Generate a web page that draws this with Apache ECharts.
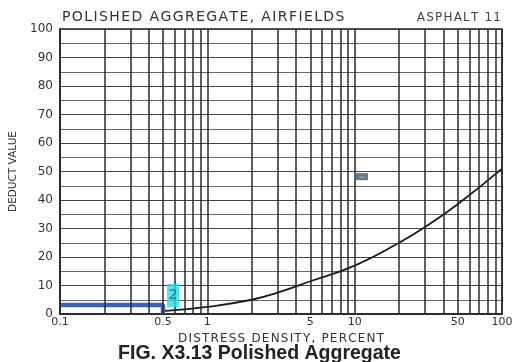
<!DOCTYPE html>
<html>
<head>
<meta charset="utf-8">
<script src="https://cdn.jsdelivr.net/npm/echarts@6/dist/echarts.min.js"></script>
<style>html,body{margin:0;padding:0;background:#fff}#c{width:519px;height:362px}</style>
</head>
<body>
<div id="c"></div>
<script>
// Curve: distress density (%) vs deduct value
var density = [0.5, 1, 2, 3, 5, 10, 20, 30, 50, 100];
var deduct  = [1, 2.5, 5, 7.5, 11.5, 17, 25, 30.5, 38.5, 51];
// Vertical grid line positions (log cycles)
var gridX = [0.1,0.2,0.3,0.4,0.5,0.6,0.7,0.8,0.9,1,2,3,4,5,6,7,8,9,10,20,30,40,50,60,70,80,90,100];
var extraXLabels = [0.5, 5, 50];
// Annotations
var bluePath = [[0.1, 3.2], [0.5, 3.2], [0.5, 0]];
var cyanLabel = [[0.585, 6.5]];
var cyanText = '2';
var darkMarker = [[11.2, 48.2]];

function spaced(s) { return s.split('').join('\u200A'); }

var chart = echarts.init(document.getElementById('c'), null, {renderer: 'canvas'});
var font = 'DejaVu Sans';
var option = {
  animation: false,
  title: [
    {text: spaced('POLISHED AGGREGATE, AIRFIELDS'), left: 57, top: 5,
     textStyle: {fontFamily: font, fontSize: 14, fontWeight: 'normal', color: '#333'}},
    {text: spaced('ASPHALT 11'), right: 13, top: 7,
     textStyle: {fontFamily: font, fontSize: 12, fontWeight: 'normal', color: '#444'}},
    {text: 'FIG. X3.13 Polished Aggregate', left: 'center', top: 339,
     textStyle: {fontFamily: 'Liberation Sans', fontSize: 19.5, fontWeight: 'bold', color: '#222'}}
  ],
  grid: {left: 60, right: 17, top: 29, bottom: 48, show: true, borderColor: '#222', borderWidth: 1.5},
  xAxis: {
    type: 'log', logBase: 10, min: 0.1, max: 100,
    name: spaced('DISTRESS DENSITY, PERCENT'), nameLocation: 'middle', nameGap: 15,
    nameTextStyle: {fontFamily: font, fontSize: 12, color: '#333'},
    axisLine: {show: true, lineStyle: {color: '#222', width: 1.5}},
    axisTick: {show: false},
    splitLine: {show: false},
    axisLabel: {fontFamily: font, fontSize: 11, color: '#333', margin: 3,
      formatter: function (v) { return String(v); }}
  },
  yAxis: {
    type: 'value', min: 0, max: 100, interval: 10,
    name: 'DEDUCT VALUE', nameLocation: 'middle', nameRotate: 90, nameGap: 38,
    nameTextStyle: {fontFamily: font, fontSize: 10.5, color: '#333'},
    axisLine: {show: true, lineStyle: {color: '#222', width: 1.5}},
    axisTick: {show: false},
    axisLabel: {fontFamily: font, fontSize: 12, color: '#333', margin: 7},
    splitLine: {show: true, lineStyle: {color: '#444', width: 1.2}},
    minorTick: {show: false, splitNumber: 2},
    minorSplitLine: {show: true, lineStyle: {color: '#666', width: 1}}
  },
  series: [
    {
      type: 'line', name: 'grid', data: [], silent: true,
      markLine: {
        symbol: 'none', silent: true, animation: false,
        lineStyle: {color: '#2a2a2a', width: 1.5, type: 'solid'},
        label: {show: false},
        data: gridX.map(function (v) {
          var lab = extraXLabels.indexOf(v) >= 0;
          return {xAxis: v, label: {show: lab, position: 'start', formatter: String(v), distance: 3,
            fontFamily: font, fontSize: 11, color: '#333'}};
        })
      }
    },
    {
      type: 'line', name: 'curve', smooth: true, showSymbol: false,
      lineStyle: {color: '#1a1a1a', width: 1.8},
      data: density.map(function (d, i) { return [d, deduct[i]]; })
    },
    {
      type: 'line', name: 'blue', showSymbol: false,
      lineStyle: {color: '#3d62b0', width: 4.5},
      data: bluePath
    },
    {
      type: 'scatter', name: 'cyan', symbol: 'rect', symbolSize: [12, 23], z: 10,
      itemStyle: {color: '#22e0e2'},
      label: {show: true, position: 'inside', formatter: cyanText, fontFamily: font, fontSize: 14,
        color: '#1f5f70', overflow: 'none'},
      data: cyanLabel
    },
    {
      type: 'scatter', name: 'dark', symbol: 'rect', symbolSize: [12, 7],
      itemStyle: {color: '#3e5566'},
      label: {show: true, position: 'inside', formatter: '▬', fontSize: 5, color: '#9ab0c6'},
      data: darkMarker
    }
  ]
};
chart.setOption(option);
</script>
</body>
</html>
